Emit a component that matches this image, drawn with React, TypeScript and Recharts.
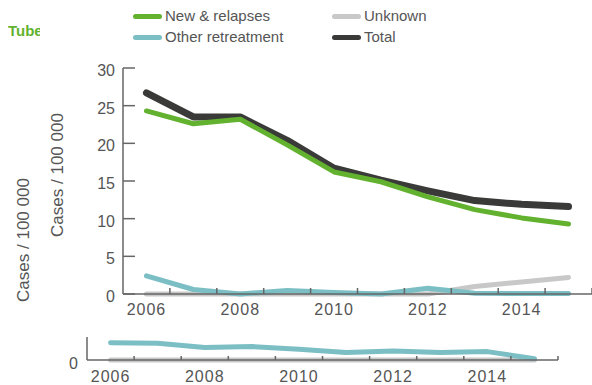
import React from "react";
import { LineChart, Line, XAxis, YAxis } from "recharts";

// Values
const years = [2006, 2007, 2008, 2009, 2010, 2011, 2012, 2013, 2014, 2015];
const newRelapses = [24.3, 22.6, 23.2, 19.8, 16.2, 14.9, 12.9, 11.2, 10.1, 9.3];
const otherRetreatment = [2.4, 0.6, 0.0, 0.45, 0.2, 0.0, 0.75, 0.1, 0.05, 0.05];
const unknown = [0, 0, 0, 0, 0, 0, 0, 1.0, 1.6, 2.2];
const total = [26.7, 23.5, 23.5, 20.4, 16.7, 15.1, 13.7, 12.4, 11.9, 11.6];

// small overview chart underneath
const miniOther = [1.73, 1.67, 1.24, 1.34, 1.07, 0.74, 0.9, 0.74, 0.84, 0.14];
const miniUnknown = [0, 0, 0, 0, 0, 0, 0, 0, 0, 0];

const yTicks = [0, 5, 10, 15, 20, 25, 30];
const xTicks = [2006, 2006.5, 2007, 2007.5, 2008, 2008.5, 2009, 2009.5, 2010, 2010.5, 2011, 2011.5, 2012, 2012.5, 2013, 2013.5, 2014, 2014.5, 2015, 2015.5];

const GREEN = "#62b22f";
const TEAL = "#7bbfc5";
const GREY = "#c8c8c8";
const DARK = "#3a3a38";
const AXIS = "#666";
const TEXT = "#555";
const FONT = "'Liberation Sans', Arial, sans-serif";

const data = years.map((year, i) => ({
  year,
  newRelapses: newRelapses[i],
  otherRetreatment: otherRetreatment[i],
  unknown: unknown[i],
  total: total[i],
}));

const miniData = years.map((year, i) => ({
  year,
  other: miniOther[i],
  unknown: miniUnknown[i],
}));

const makeXTick = (margin: number, len: number) => (props: any) => {
  const { x, y, payload } = props;
  const v = payload.value;
  if (v % 1 === 0.5) {
    return <line x1={x} x2={x} y1={y - margin} y2={y - margin - len} stroke={AXIS} strokeWidth={1.5} />;
  }
  if (v % 2 === 0) {
    return (
      <text x={x} y={y} dy="0.71em" textAnchor="middle" fill={TEXT} fontSize={16} fontFamily={FONT} letterSpacing={1}>
        {v}
      </text>
    );
  }
  return <g />;
};

const YTick = (props: any) => {
  const { x, y, payload } = props;
  return (
    <g>
      <line x1={x + 8} x2={x + 20} y1={y} y2={y} stroke={AXIS} strokeWidth={1.5} />
      <text x={x} y={y} dy="0.5em" textAnchor="end" fill={TEXT} fontSize={16} fontFamily={FONT}>
        {payload.value}
      </text>
    </g>
  );
};

const MiniYTick = (props: any) => {
  const { x, y, payload } = props;
  return (
    <text x={x} y={y} dy="0.55em" textAnchor="end" fill={TEXT} fontSize={16} fontFamily={FONT}>
      {payload.value}
    </text>
  );
};

const legendItems = [
  { label: "New & relapses", color: GREEN, left: 133, top: 16 },
  { label: "Unknown", color: GREY, left: 332, top: 16 },
  { label: "Other retreatment", color: TEAL, left: 133, top: 37 },
  { label: "Total", color: DARK, left: 332, top: 37 },
];

export default function App() {
  return (
    <div style={{ position: "absolute", left: 0, top: 0, width: 592, height: 385, background: "#fff", fontFamily: FONT, overflow: "hidden" }}>
      {/* title, cut off in the original */}
      <div style={{ position: "absolute", left: 8, top: 22, width: 32, overflow: "hidden", whiteSpace: "nowrap", color: GREEN, fontWeight: "bold", fontSize: 15 }}>
        Tube
      </div>

      {/* legend */}
      {legendItems.map((item) => (
        <div key={item.label} style={{ position: "absolute", left: item.left, top: item.top - 10, height: 20, display: "flex", alignItems: "center" }}>
          <span style={{ display: "inline-block", width: 29, height: 5, borderRadius: 3, background: item.color, marginRight: 3 }} />
          <span style={{ color: TEXT, fontSize: 15, lineHeight: "20px" }}>{item.label}</span>
        </div>
      ))}

      {/* main chart */}
      <div style={{ position: "absolute", left: 0, top: 0 }}>
        <LineChart width={592} height={330} data={data} margin={{ top: 68, right: 0, left: 0, bottom: 0 }}>
          <XAxis
            dataKey="year"
            type="number"
            domain={[2005.5, 2015.5]}
            ticks={xTicks}
            interval={0}
            height={36}
            tickSize={0}
            tickMargin={10}
            tickLine={false}
            axisLine={{ stroke: AXIS, strokeWidth: 1.5 }}
            tick={makeXTick(10, 6)}
          />
          <YAxis
            width={123}
            domain={[0, 30]}
            ticks={yTicks}
            interval={0}
            tickSize={0}
            tickMargin={8}
            tickLine={false}
            axisLine={{ stroke: AXIS, strokeWidth: 1.5 }}
            tick={YTick}
          />
          <Line dataKey="unknown" stroke={GREY} strokeWidth={5} dot={false} type="linear" strokeLinecap="round" strokeLinejoin="round" isAnimationActive={false} />
          <Line dataKey="otherRetreatment" stroke={TEAL} strokeWidth={5} dot={false} type="linear" strokeLinecap="round" strokeLinejoin="round" isAnimationActive={false} />
          <Line dataKey="total" stroke={DARK} strokeWidth={7} dot={false} type="linear" strokeLinecap="round" strokeLinejoin="round" isAnimationActive={false} />
          <Line dataKey="newRelapses" stroke={GREEN} strokeWidth={5} dot={false} type="linear" strokeLinecap="round" strokeLinejoin="round" isAnimationActive={false} />
        </LineChart>
      </div>

      {/* overview chart */}
      <div style={{ position: "absolute", left: 0, top: 320 }}>
        <LineChart width={592} height={65} data={miniData} margin={{ top: 17, right: 34, left: 0, bottom: 0 }}>
          <XAxis
            dataKey="year"
            type="number"
            domain={[2005.5, 2015.5]}
            ticks={xTicks}
            interval={0}
            height={25}
            tickSize={0}
            tickMargin={11}
            tickLine={false}
            axisLine={{ stroke: AXIS, strokeWidth: 1.5 }}
            tick={makeXTick(11, 4)}
          />
          <YAxis
            width={87}
            domain={[0, 2.3]}
            ticks={[0]}
            tickSize={0}
            tickMargin={9}
            tickLine={false}
            axisLine={{ stroke: AXIS, strokeWidth: 1.5 }}
            tick={MiniYTick}
          />
          <Line dataKey="unknown" stroke={GREY} strokeWidth={5} dot={false} type="linear" strokeLinecap="round" isAnimationActive={false} />
          <Line dataKey="other" stroke={TEAL} strokeWidth={5} dot={false} type="linear" strokeLinecap="round" strokeLinejoin="round" isAnimationActive={false} />
        </LineChart>
      </div>

      {/* axis titles */}
      <svg width={592} height={385} style={{ position: "absolute", left: 0, top: 0, pointerEvents: "none" }}>
        <text x={23} y={240} transform="rotate(-90, 23, 240)" textAnchor="middle" dominantBaseline="central" fill={TEXT} fontSize={17} fontFamily={FONT}>
          Cases / 100 000
        </text>
        <text x={57} y={175} transform="rotate(-90, 57, 175)" textAnchor="middle" dominantBaseline="central" fill={TEXT} fontSize={17} fontFamily={FONT}>
          Cases / 100 000
        </text>
      </svg>
    </div>
  );
}
